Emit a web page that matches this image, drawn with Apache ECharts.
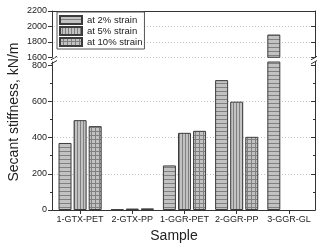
<!DOCTYPE html>
<html>
<head>
<meta charset="utf-8">
<script src="https://cdn.jsdelivr.net/npm/echarts@6/dist/echarts.min.js"></script>
<style>
  html, body { margin: 0; padding: 0; background: #fff; }
  #chart { width: 325px; height: 245px; }
</style>
</head>
<body>
<div id="chart"></div>
<script>
  // data
  var samples = ['1-GTX-PET', '2-GTX-PP', '1-GGR-PET', '2-GGR-PP', '3-GGR-GL'];
  var seriesNames = ['at 2% strain', 'at 5% strain', 'at 10% strain'];
  var strain2 = [370, 3, 246, 717, 1895];
  var strain5 = [496, 8, 426, 598, null];
  var strain10 = [463, 9, 437, 404, null];
  var lowerTicks = [0, 200, 400, 600, 800];
  var lowerMinor = [100, 300, 500, 700];
  var upperTicks = [1600, 1800, 2000, 2200];

  // broken axis: lower panel 0..817, upper panel 1600..2200
  var lowerMax = 817;
  var upperMin = 1600, upperMax = 2200;

  var font = 'Liberation Sans';
  var axisColor = '#333';

  function hatch(kind) {
    var c = document.createElement('canvas');
    var w = kind === 'v' ? 3 : 4, h = 4;
    c.width = w; c.height = h;
    var ctx = c.getContext('2d');
    ctx.fillStyle = '#c2c2c2';
    ctx.fillRect(0, 0, w, h);
    ctx.fillStyle = '#808080';
    if (kind !== 'v') ctx.fillRect(0, h - 1, w, 1);
    if (kind !== 'h') ctx.fillRect(w - 1, 0, 1, h);
    return { image: c, repeat: 'repeat' };
  }
  var patterns = [hatch('h'), hatch('v'), hatch('g')];
  var values = [strain2, strain5, strain10];

  var chart = echarts.init(document.getElementById('chart'), null, { renderer: 'canvas' });

  var gridLine = { show: true, lineStyle: { color: '#c4c4c4', type: [1, 2], width: 1 } };
  var plain = function (v) { return String(v); };

  var series = [];
  values.forEach(function (vals, i) {
    var style = { color: patterns[i], borderColor: '#3c3c3c', borderWidth: 1 };
    series.push({
      name: seriesNames[i], type: 'bar', xAxisIndex: 0, yAxisIndex: 0,
      barWidth: 13, barGap: '16%', itemStyle: style,
      data: vals.map(function (v) { return v == null ? '-' : v; })
    });
    series.push({
      name: seriesNames[i], type: 'bar', xAxisIndex: 1, yAxisIndex: 4,
      barWidth: 13, barGap: '16%', itemStyle: style,
      data: vals.map(function (v) { return v != null && v > upperMin ? v : '-'; })
    });
  });

  var option = {
    animation: false,
    textStyle: { fontFamily: font },
    grid: [
      { left: 54, right: 10, top: 62, bottom: 35 },
      { left: 54, right: 10, top: 11, bottom: 187.7 },
      { left: 52, right: 10, top: 11, bottom: 35 }
    ],
    legend: {
      data: seriesNames,
      orient: 'vertical',
      left: 57, top: 12,
      padding: [3, 2, 2, 2],
      itemGap: 1,
      itemWidth: 22, itemHeight: 8,
      icon: 'rect',
      borderColor: '#555', borderWidth: 1,
      backgroundColor: '#fff',
      textStyle: { fontFamily: font, fontSize: 9.5, color: '#222' }
    },
    xAxis: [
      {
        type: 'category', gridIndex: 0, position: 'bottom', data: samples,
        axisLine: { show: true, lineStyle: { color: axisColor } },
        axisTick: { show: true, alignWithLabel: true, length: 4, lineStyle: { color: axisColor } },
        axisLabel: { interval: 0, margin: 5, fontFamily: font, fontSize: 9, color: '#222' },
        splitLine: { show: false }
      },
      {
        type: 'category', gridIndex: 1, position: 'top', data: samples,
        axisLine: { show: false }, axisTick: { show: false }, axisLabel: { show: false }
      },
      {
        type: 'value', gridIndex: 2, position: 'bottom', min: 0, max: 1,
        axisLine: { show: true, lineStyle: { color: axisColor } },
        axisTick: { show: false }, axisLabel: { show: false }, splitLine: { show: false }
      },
      {
        type: 'value', gridIndex: 2, position: 'top', min: 0, max: 1,
        axisLine: { show: true, lineStyle: { color: axisColor } },
        axisTick: { show: false }, axisLabel: { show: false }, splitLine: { show: false }
      }
    ],
    yAxis: [
      { // 0 lower left
        type: 'value', gridIndex: 0, position: 'left', offset: 2,
        min: 0, max: lowerMax, interval: 200,
        axisLine: { show: true, lineStyle: { color: axisColor } },
        axisTick: { show: true, length: 4, customValues: lowerTicks, lineStyle: { color: axisColor } },
        axisLabel: { customValues: lowerTicks, formatter: plain, margin: 5, fontFamily: font, fontSize: 9, color: '#222' },
        splitLine: Object.assign({ showMinLine: false, showMaxLine: false }, gridLine)
      },
      { // 1 lower left minor ticks
        type: 'value', gridIndex: 0, position: 'left', offset: 2,
        min: 0, max: lowerMax,
        axisLine: { show: false },
        axisTick: { show: true, length: 2, customValues: lowerMinor, lineStyle: { color: axisColor } },
        axisLabel: { show: false }, splitLine: { show: false }
      },
      { // 2 lower right
        type: 'value', gridIndex: 0, position: 'right',
        min: 0, max: lowerMax,
        axisLine: { show: true, lineStyle: { color: axisColor } },
        axisTick: { show: true, inside: true, length: 4, customValues: lowerTicks, lineStyle: { color: axisColor } },
        axisLabel: { show: false }, splitLine: { show: false }
      },
      { // 3 lower right minor ticks
        type: 'value', gridIndex: 0, position: 'right',
        min: 0, max: lowerMax,
        axisLine: { show: false },
        axisTick: { show: true, inside: true, length: 2, customValues: lowerMinor, lineStyle: { color: axisColor } },
        axisLabel: { show: false }, splitLine: { show: false }
      },
      { // 4 upper left
        type: 'value', gridIndex: 1, position: 'left', offset: 2,
        min: upperMin, max: upperMax, interval: 200,
        axisLine: { show: true, lineStyle: { color: axisColor } },
        axisTick: { show: true, length: 4, customValues: upperTicks, lineStyle: { color: axisColor } },
        axisLabel: { customValues: upperTicks, formatter: plain, margin: 5, fontFamily: font, fontSize: 9, color: '#222' },
        splitLine: Object.assign({ showMinLine: true, showMaxLine: false }, gridLine)
      },
      { // 5 upper right
        type: 'value', gridIndex: 1, position: 'right',
        min: upperMin, max: upperMax,
        axisLine: { show: true, lineStyle: { color: axisColor } },
        axisTick: { show: true, inside: true, length: 4, customValues: upperTicks, lineStyle: { color: axisColor } },
        axisLabel: { show: false }, splitLine: { show: false }
      },
      { // 6 frame
        type: 'value', gridIndex: 2, show: false
      }
    ],
    graphic: [
      {
        type: 'text', x: 14, y: 112, rotation: Math.PI / 2,
        style: { text: 'Secant stiffness, kN/m', font: '14px "Liberation Sans"', fill: '#222', align: 'center', verticalAlign: 'middle' }
      },
      {
        type: 'text', x: 174, y: 236,
        style: { text: 'Sample', font: '14px "Liberation Sans"', fill: '#222', align: 'center', verticalAlign: 'middle' }
      }
    ],
    series: series
  };
  chart.setOption(option);

  // break marks on both vertical axes, between the two panels
  var yTop = chart.convertToPixel({ yAxisIndex: 4 }, upperMin);
  var yBot = chart.convertToPixel({ yAxisIndex: 0 }, lowerMax);
  var marks = [];
  [52, 315].forEach(function (x0, k) {
    var dx = k === 0 ? 0 : -3;
    marks.push({ type: 'line', shape: { x1: x0 - 1 + dx, y1: yTop + 2.5, x2: x0 + 5 + dx, y2: yTop - 1 }, style: { stroke: axisColor, lineWidth: 1 } });
    marks.push({ type: 'line', shape: { x1: x0 - 1 + dx, y1: yBot + 2, x2: x0 + 5 + dx, y2: yBot - 1.5 }, style: { stroke: axisColor, lineWidth: 1 } });
  });
  chart.setOption({ graphic: option.graphic.concat(marks) });
</script>
</body>
</html>
